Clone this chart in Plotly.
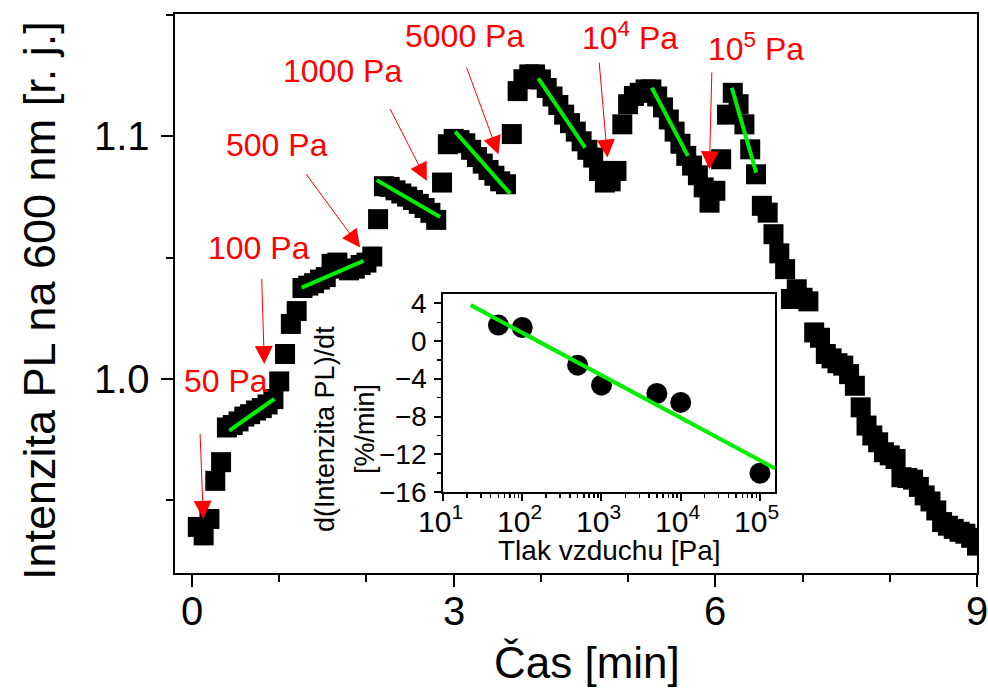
import math
import plotly.graph_objects as go

FONT = "Liberation Sans, Arial, sans-serif"

# ---------------- main series: PL intensity vs. time (4 s sampling) ----------------
SAMPLE_STEP_MIN = 1 / 15
pl_intensity = [
    0.9390, 0.9355, 0.9423, 0.9580, 0.9657, 0.9800, 0.9810, 0.9825, 0.9845, 0.9855,
    0.9870, 0.9880, 0.9895, 0.9917, 0.9990, 1.0103, 1.0227, 1.0280, 1.0375, 1.0385,
    1.0395, 1.0410, 1.0420, 1.0475, 1.0480, 1.0455, 1.0448, 1.0455, 1.0470, 1.0480,
    1.0505, 1.0659, 1.0795, 1.0792, 1.0778, 1.0765, 1.0752, 1.0738, 1.0722, 1.0705,
    1.0685, 1.0656, 1.0810, 1.0968, 1.0990, 1.0985, 1.0972, 1.0945, 1.0915, 1.0888,
    1.0862, 1.0838, 1.0815, 1.0803, 1.1010, 1.1187, 1.1236, 1.1256, 1.1256, 1.1235,
    1.1200, 1.1165, 1.1130, 1.1090, 1.1055, 1.1020, 1.0980, 1.0945, 1.0913, 1.0858,
    1.0810, 1.0815, 1.0858, 1.1050, 1.1133, 1.1167, 1.1180, 1.1194, 1.1194, 1.1165,
    1.1120, 1.1070, 1.1020, 1.0970, 1.0920, 1.0880, 1.0840, 1.0790, 1.0727, 1.0776,
    1.0906, 1.1090, 1.1180, 1.1133, 1.1050, 1.0947, 1.0844, 1.0714, 1.0686, 1.0597,
    1.0518, 1.0453, 1.0330, 1.0370, 1.0335, 1.0320, 1.0192, 1.0170, 1.0103, 1.0085,
    1.0065, 1.0055, 1.0020, 0.9972, 0.9883, 0.9808, 0.9767, 0.9739, 0.9698, 0.9685,
    0.9670, 0.9595, 0.9592, 0.9585, 0.9555, 0.9520, 0.9495, 0.9458, 0.9410, 0.9395,
    0.9382, 0.9370, 0.9362, 0.9345, 0.9313,
]
time_min = [(i + 1) * SAMPLE_STEP_MIN for i in range(len(pl_intensity))]

# linear fits of each pressure step (start/end)
fit_t0 = [0.428, 1.258, 2.118, 3.016, 3.970, 5.272, 6.189]
fit_t1 = [0.944, 1.965, 2.844, 3.647, 4.507, 5.685, 6.468]
fit_v0 = [0.9787, 1.0377, 1.0820, 1.1020, 1.1240, 1.1201, 1.1201]
fit_v1 = [0.9918, 1.0487, 1.0668, 1.0764, 1.0954, 1.0920, 1.0851]

# ---------------- inset: rate vs. air pressure ----------------
pressure_pa = [50, 100, 500, 1000, 5000, 10000, 100000]
rate_pct_min = [1.7, 1.45, -2.55, -4.67, -5.55, -6.5, -14.0]
inset_fit_p = [22.4, 155000]
inset_fit_rate = [3.82, -13.5]

# ---------------- annotations ----------------
labels = ["50 Pa", "100 Pa", "500 Pa", "1000 Pa", "5000 Pa",
          "10<sup>4</sup> Pa", "10<sup>5</sup> Pa"]
label_t = [0.384, 0.768, 0.969, 1.726, 3.119, 5.023, 6.468]
label_v = [0.9993, 1.0539, 1.0963, 1.1268, 1.1414, 1.1414, 1.1369]
arrow_tail_t = [0.092, 0.799, 1.296, 2.263, 3.142, 4.667, 5.960]
arrow_tail_v = [0.9780, 1.0418, 1.0851, 1.1119, 1.1290, 1.1311, 1.1270]
arrow_tip_t = [0.130, 0.829, 1.927, 2.692, 3.513, 4.763, 5.932]
arrow_tip_v = [0.9423, 1.0062, 1.0542, 1.0817, 1.0927, 1.0913, 1.0865]

main_xticks = [0, 3, 6, 9]
main_xtick_text = ["0", "3", "6", "9"]
main_yticks = [1.0, 1.1]
main_ytick_text = ["1.0", "1.1"]
inset_xticks = [10, 100, 1000, 10000, 100000]
inset_xtick_text = ["10<sup>1</sup>", "10<sup>2</sup>", "10<sup>3</sup>",
                    "10<sup>4</sup>", "10<sup>5</sup>"]
inset_yticks = [-16, -12, -8, -4, 0, 4]
inset_ytick_text = ["\u221216", "\u221212", "\u22128", "\u22124", "0", "4"]

GREEN = "#00ee00"
RED = "#ff0000"

fig = go.Figure()

fig.add_trace(go.Scatter(
    x=time_min, y=pl_intensity, mode="markers",
    marker=dict(symbol="square", size=20, color="black", line=dict(width=0)),
    xaxis="x", yaxis="y", hoverinfo="skip"))

fx, fy = [], []
for a, b, c, d in zip(fit_t0, fit_t1, fit_v0, fit_v1):
    fx += [a, b, None]
    fy += [c, d, None]
fig.add_trace(go.Scatter(x=fx, y=fy, mode="lines",
                         line=dict(color=GREEN, width=4),
                         xaxis="x", yaxis="y", hoverinfo="skip"))

fig.add_trace(go.Scatter(
    x=pressure_pa, y=rate_pct_min, mode="markers",
    marker=dict(symbol="circle", size=21, color="black", line=dict(width=0)),
    xaxis="x2", yaxis="y2", hoverinfo="skip"))
fig.add_trace(go.Scatter(x=inset_fit_p, y=inset_fit_rate, mode="lines",
                         line=dict(color=GREEN, width=4),
                         xaxis="x2", yaxis="y2", hoverinfo="skip"))

annotations = []
# red pressure labels + arrows
for txt, tx, ty in zip(labels, label_t, label_v):
    annotations.append(dict(x=tx, y=ty, xref="x", yref="y", text=txt,
                            showarrow=False, xanchor="center", yanchor="middle",
                            font=dict(family=FONT, size=32, color=RED)))
for x0, y0, x1, y1 in zip(arrow_tail_t, arrow_tail_v, arrow_tip_t, arrow_tip_v):
    annotations.append(dict(x=x1, y=y1, ax=x0, ay=y0, xref="x", yref="y",
                            axref="x", ayref="y", text="", showarrow=True,
                            arrowhead=2, arrowsize=3.6, arrowwidth=1,
                            arrowcolor=RED, standoff=0, startstandoff=0))

# main axis tick labels
for v, txt in zip(main_xticks, main_xtick_text):
    annotations.append(dict(x=v, y=0, xref="x", yref="y domain", text=txt,
                            showarrow=False, xanchor="center", yanchor="middle",
                            yshift=-38, font=dict(family=FONT, size=40, color="black")))
for v, txt in zip(main_yticks, main_ytick_text):
    annotations.append(dict(x=0, y=v, xref="x domain", yref="y", text=txt,
                            showarrow=False, xanchor="right", yanchor="middle",
                            xshift=-23, font=dict(family=FONT, size=40, color="black")))
# inset tick labels
for v, txt in zip(inset_xticks, inset_xtick_text):
    annotations.append(dict(x=math.log10(v), y=0, xref="x2", yref="y2 domain",
                            text=txt, showarrow=False, xanchor="center",
                            yanchor="bottom", yshift=-48, xshift=-3,
                            font=dict(family=FONT, size=30, color="black")))
for v, txt in zip(inset_yticks, inset_ytick_text):
    annotations.append(dict(x=0, y=v, xref="x2 domain", yref="y2",
                            text=txt, showarrow=False, xanchor="right",
                            yanchor="middle", xshift=-14,
                            font=dict(family=FONT, size=28, color="black")))

# axis titles
annotations.append(dict(x=-0.1683, y=0.4866, xref="paper", yref="paper",
                        text="Intenzita PL na 600 nm [r. j.]", textangle=-90,
                        showarrow=False, xanchor="center", yanchor="middle",
                        font=dict(family=FONT, size=45, color="black")))
annotations.append(dict(x=0.5143, y=-0.161, xref="paper", yref="paper",
                        text="Čas [min]",
                        showarrow=False, xanchor="center", yanchor="middle",
                        font=dict(family=FONT, size=44, color="black")))
annotations.append(dict(x=0.187, y=0.2576, xref="paper", yref="paper",
                        text="d(Intenzita PL)/dt", textangle=-90,
                        showarrow=False, xanchor="center", yanchor="middle",
                        font=dict(family=FONT, size=27, color="black")))
annotations.append(dict(x=0.2369, y=0.2576, xref="paper", yref="paper",
                        text="[%/min]", textangle=-90,
                        showarrow=False, xanchor="center", yanchor="middle",
                        font=dict(family=FONT, size=27, color="black")))
annotations.append(dict(x=0.5418, y=0.0411, xref="paper", yref="paper",
                        text="Tlak vzduchu [Pa]",
                        showarrow=False, xanchor="center", yanchor="middle",
                        font=dict(family=FONT, size=28, color="black")))

axis_common = dict(showgrid=False, zeroline=False, linecolor="black",
                   linewidth=2, mirror=True, ticks="outside", tickcolor="black",
                   showline=True, automargin=False, showticklabels=False)

fig.update_layout(
    width=988, height=688,
    margin=dict(l=175, r=11, t=14, b=115, autoexpand=False),
    plot_bgcolor="white", paper_bgcolor="white",
    showlegend=False,
    font=dict(family=FONT, color="black"),
    annotations=annotations,
    xaxis=dict(**axis_common, domain=[0, 1], range=[-0.195, 9.0],
               tickmode="array", tickvals=main_xticks, ticklen=12, tickwidth=2,
               minor=dict(dtick=1, tick0=0, ticks="outside", ticklen=7,
                          tickwidth=2, tickcolor="black", showgrid=False)),
    yaxis=dict(**axis_common, domain=[0, 1], range=[0.92, 1.1505],
               tickmode="array", tickvals=main_yticks,
               ticklen=12, tickwidth=2,
               minor=dict(dtick=0.05, tick0=0.95, ticks="outside", ticklen=7,
                          tickwidth=2, tickcolor="black", showgrid=False)),
    xaxis2=dict(**axis_common, type="log", domain=[0.3342, 0.7481],
                range=[1, 5.19], anchor="y2",
                tickmode="array", tickvals=inset_xticks,
                ticklen=7, tickwidth=2,
                minor=dict(tickmode="array",
                           tickvals=[m * 10 ** e for e in range(1, 6) for m in range(2, 10)],
                           ticks="outside", ticklen=4, tickwidth=1.5,
                           tickcolor="black", showgrid=False)),
    yaxis2=dict(**axis_common, domain=[0.1449, 0.4991], range=[-16, 5],
                anchor="x2",
                tickmode="array", tickvals=inset_yticks,
                ticklen=7, tickwidth=2,
                minor=dict(tickmode="array", tickvals=[-14, -10, -6, -2, 2],
                           ticks="outside", ticklen=4, tickwidth=1.5,
                           tickcolor="black", showgrid=False)),
)

fig.write_html("out.html",
               config={"displayModeBar": False, "staticPlot": True},
               post_script="document.body.style.margin='0px';"
                           "document.body.style.overflow='hidden';")
